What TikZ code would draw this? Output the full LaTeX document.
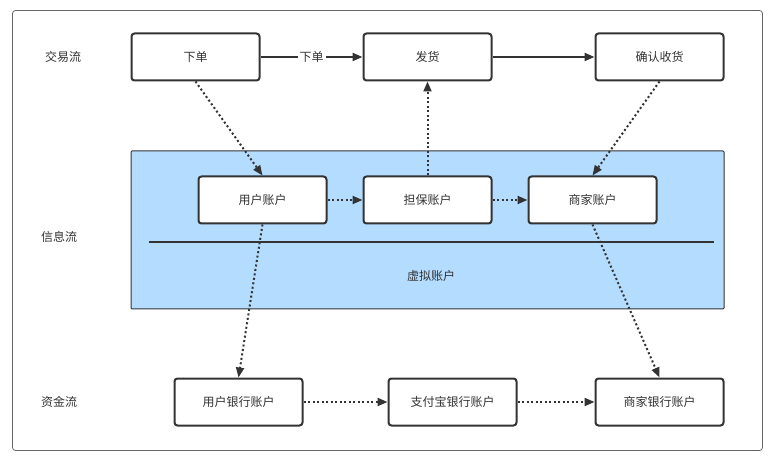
\documentclass[tikz,border=0pt]{standalone}
\usepackage{fontspec}
\newfontfamily\cjk{Noto Sans CJK SC}
\usetikzlibrary{arrows.meta}
\definecolor{ink}{HTML}{333333}
\definecolor{lblue}{HTML}{B3DCFF}
\begin{document}
\begin{tikzpicture}[x=1pt,y=-1pt,
  box/.style={draw=ink,line width=2pt,rounded corners=3pt,fill=white,minimum width=128pt,minimum height=47pt,inner sep=0pt,font=\cjk\fontsize{12}{14}\selectfont,text=ink},
  lbl/.style={font=\cjk\fontsize{12}{14}\selectfont,text=ink,inner sep=1pt},
  arr/.style={draw=ink,line width=2pt,-{Triangle[length=10pt,width=8pt]}},
  darr/.style={arr,dash pattern=on 2pt off 2.5pt}]
\useasboundingbox (0,0) rectangle (771,462);
\fill[white] (0,0) rectangle (771,462);
\draw[draw=gray!80!black,line width=0.8pt,rounded corners=3pt] (12.5,10.5) rectangle (762.5,450.5);
\node[lbl] (l1) at (63,57) {交易流};
\node[lbl] (l2) at (59,237) {信息流};
\node[lbl] (l3) at (59,402) {资金流};
\draw[ink,line width=1pt,fill=lblue,rounded corners=1pt] (131,151) rectangle (724,309);
\draw[ink,line width=2pt] (149,242) -- (714,242);
\node[lbl] (virt) at (431,276) {虚拟账户};
\node[box] (xd) at (195.5,57) {下单};
\node[box] (fh) at (427.5,57) {发货};
\node[box] (qr) at (659.5,57) {确认收货};
\node[box] (yh) at (262.5,200) {用户账户};
\node[box] (db) at (427.5,200) {担保账户};
\node[box] (sj) at (592.5,200) {商家账户};
\node[box] (yhyh) at (238.5,402) {用户银行账户};
\node[box] (zfb) at (452.5,402) {支付宝银行账户};
\node[box] (sjyh) at (659.5,402) {商家银行账户};
\draw[arr] (xd) -- node[lbl,fill=white,inner sep=2pt] {下单} (fh);
\draw[arr] (fh) -- (qr);
\draw[darr] (xd.south) -- (yh.north);
\draw[darr] (db.north) -- (fh.south);
\draw[darr] (qr.south) -- (sj.north);
\draw[darr] (yh) -- (db);
\draw[darr] (db) -- (sj);
\draw[darr] (yh.south) -- (yhyh.north);
\draw[darr] (sj.south) -- (sjyh.north);
\draw[darr] (yhyh) -- (zfb);
\draw[darr] (zfb) -- (sjyh);
\end{tikzpicture}
\end{document}
